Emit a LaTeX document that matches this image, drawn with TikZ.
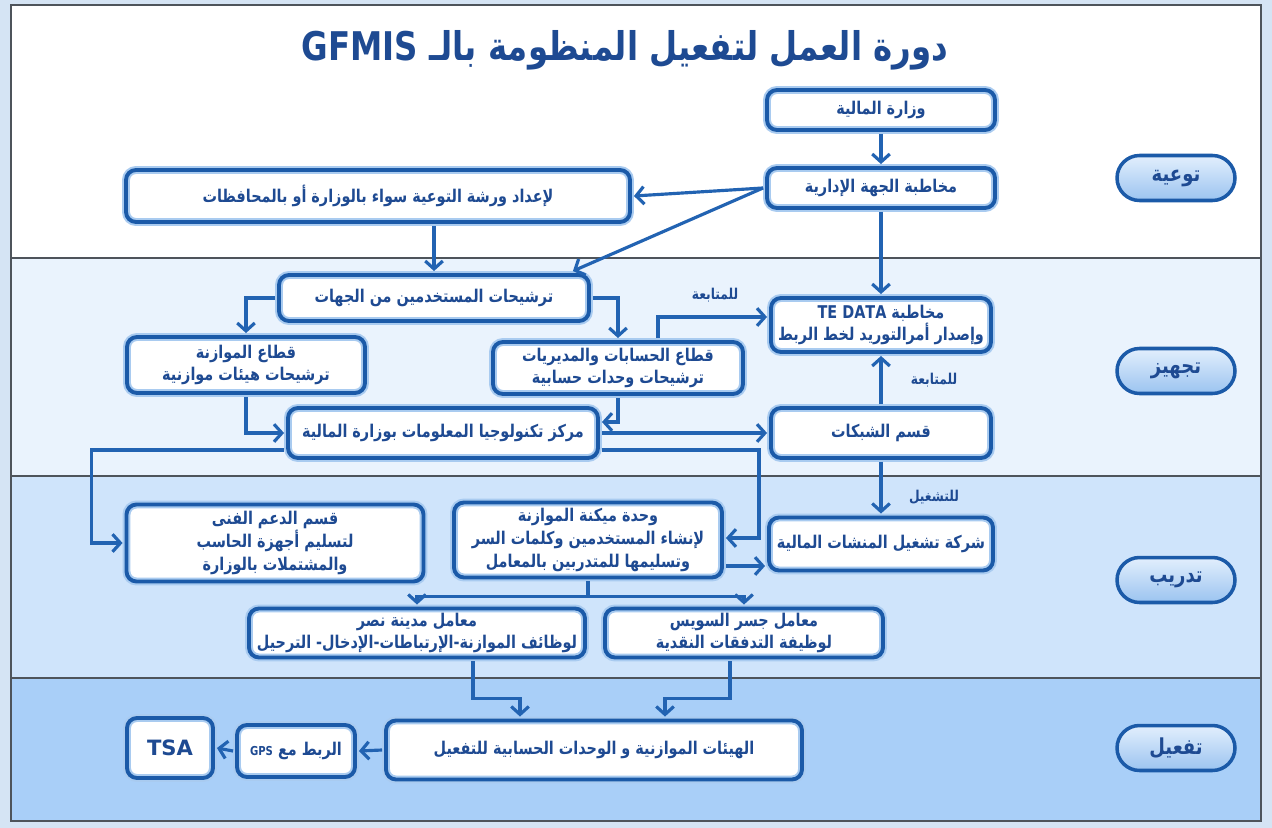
\documentclass[tikz,border=0pt]{standalone}
\usepackage{fontspec}
\setmainfont{DejaVu Sans}
\newfontfamily\arabicfont[Script=Arabic, FakeStretch=0.82]{DejaVu Sans}
\TeXXeTstate=1
\usetikzlibrary{arrows.meta,calc}
\definecolor{boxblue}{HTML}{1B5AA8}
\definecolor{glow}{HTML}{A9CBF0}
\definecolor{txtblue}{HTML}{1E4A92}
\definecolor{lineblue}{HTML}{2263B2}
\definecolor{bandA}{HTML}{FFFFFF}
\definecolor{bandB}{HTML}{EAF3FD}
\definecolor{bandC}{HTML}{CFE4FB}
\definecolor{bandD}{HTML}{A9CFF8}
\definecolor{outer}{HTML}{D5E4F4}
\definecolor{frame}{HTML}{4E545B}
\newcommand\ar[1]{{\arabicfont\bfseries\beginR #1\endR}}
\tikzset{
  sz/.style 2 args={minimum width=#1*0.02cm, minimum height=#2*0.02cm},
  box/.style={rectangle, rounded corners=0.2cm, fill=white, draw=glow, line width=4.5pt,
    postaction={draw=boxblue, line width=2.2pt}, align=center, text=txtblue,
    font=\fontsize{10}{13}\selectfont, inner sep=1pt},
  pill/.style={rectangle, rounded corners=0.45cm, top color=bandC!60!white, bottom color=bandD!90!boxblue,
    draw=boxblue, line width=2pt, minimum width=2.36cm, minimum height=0.9cm, text=txtblue,
    font=\fontsize{12.5}{14}\selectfont},
  arr/.style={draw=lineblue, line width=1.8pt, -{Straight Barb[length=4.5pt,width=10pt]}},
  ln/.style={draw=lineblue, line width=1.8pt},
  lbl/.style={text=txtblue, font=\fontsize{8.5}{10}\selectfont, inner sep=0pt},
  sep/.style={draw=frame, line width=0.9pt}
}
\begin{document}
\begin{tikzpicture}[x=0.02cm, y=-0.02cm]
\useasboundingbox (0,0) rectangle (1272,828);
\fill[outer] (0,0) rectangle (1272,828);
% bands
\fill[bandA] (11,5) rectangle (1261,258);
\fill[bandB] (11,258) rectangle (1261,476);
\fill[bandC] (11,476) rectangle (1261,678);
\fill[bandD] (11,678) rectangle (1261,821);
\draw[sep] (11,258) -- (1261,258);
\draw[sep] (11,476) -- (1261,476);
\draw[sep] (11,678) -- (1261,678);
\draw[draw=frame, line width=1.6pt] (11,5) rectangle (1261,821);

% title
\node[text=txtblue, font=\fontsize{22.5}{26}\selectfont] (title) at (625,50)
  {\ar{دورة العمل لتفعيل المنظومة بالـ  \beginL GFMIS\endL}};

% phase pills
\node[pill] (p1) at (1176,178) {\ar{توعية}};
\node[pill] (p2) at (1176,371) {\ar{تجهيز}};
\node[pill] (p3) at (1176,580) {\ar{تدريب}};
\node[pill] (p4) at (1176,748) {\ar{تفعيل}};

% boxes
\node[box, sz={228}{40}] (b1) at (881,110) {\ar{وزارة المالية}};
\node[box, sz={228}{40}] (b2) at (881,188) {\ar{مخاطبة الجهة الإدارية}};
\node[box, sz={504}{52}] (b3) at (378,196) {\ar{لإعداد ورشة التوعية سواء بالوزارة أو بالمحافظات}};
\node[box, sz={310}{46}] (b4) at (434,298) {\ar{ترشيحات المستخدمين من الجهات}};
\node[box, sz={238}{56}] (b5) at (246,365) {\ar{قطاع الموازنة}\\\ar{ترشيحات هيئات موازنية}};
\node[box, sz={250}{52}] (b6) at (618,368) {\ar{قطاع الحسابات والمديريات}\\\ar{ترشيحات وحدات حسابية}};
\node[box, sz={220}{54}] (b7) at (881,325) {\ar{مخاطبة  \beginL TE DATA\endL}\\\ar{وإصدار أمرالتوريد لخط الربط}};
\node[box, sz={310}{50}] (b8) at (443,433) {\ar{مركز تكنولوجيا المعلومات بوزارة المالية}};
\node[box, sz={220}{50}] (b9) at (881,433) {\ar{قسم الشبكات}};
\node[box, sz={297}{77}] (b10) at (275,543) {\ar{قسم الدعم الفنى}\\\ar{لتسليم أجهزة الحاسب}\\\ar{والمشتملات بالوزارة}};
\node[box, sz={268}{75}] (b11) at (588,540) {\ar{وحدة ميكنة الموازنة}\\\ar{لإنشاء المستخدمين وكلمات السر}\\\ar{وتسليمها للمتدربين بالمعامل}};
\node[box, sz={224}{53}] (b12) at (881,544) {\ar{شركة تشغيل المنشات المالية}};
\node[box, sz={336}{49}] (b13) at (417,633) {\ar{معامل مدينة نصر}\\\ar{لوظائف الموازنة-الإرتباطات-الإدخال- الترحيل}};
\node[box, sz={278}{49}] (b14) at (744,633) {\ar{معامل جسر السويس}\\\ar{لوظيفة التدفقات النقدية}};
\node[box, sz={416}{59}] (b15) at (594,750) {\ar{الهيئات الموازنية و الوحدات الحسابية للتفعيل}};
\node[box, sz={118}{52}] (b16) at (296,751) {\ar{الربط مع \beginL{\fontsize{7}{9}\selectfont GPS}\endL}};
\node[box, sz={86}{60}, font=\fontsize{12}{14}\selectfont\bfseries] (b17) at (170,748) {TSA};

% connectors
\draw[arr] (b1.south) -- (b2.north);
\draw[arr] (b2.west) -- (b3.east);
\draw[arr] (b2.west) -- ($(b4.north east)+(-20,0)$);
\draw[arr] (b4.north |- b3.south) -- (b4.north);
\draw[arr] (b2.south) -- (b7.north);
\draw[arr] (b4.west) -| (b5.north);
\draw[arr] (b4.east) -| (b6.north);
\draw[arr] ($(b6.north)+(40,0)$) |- ($(b7.west)+(0,-8)$);
\node[lbl] (l1) at (715,295) {\ar{للمتابعة}};
\draw[arr] (b5.south) |- (b8.west);
\draw[arr] (b6.south) |- ($(b8.east)+(0,-11)$);
\draw[arr] (b8.east) -- (b9.west);
\draw[arr] (b9.north) -- (b7.south);
\node[lbl] (l2) at (934,380) {\ar{للمتابعة}};
\draw[arr] (b9.south) -- (b12.north);
\node[lbl] (l3) at (934,497) {\ar{للتشغيل}};
\draw[arr] ($(b8.west)+(0,17)$) -| ($(b10.west)+(-31,0)$) -- (b10.west);
\draw[arr] ($(b8.east)+(0,17)$) -| ($(b11.east)+(33,-2)$) -- ($(b11.east)+(0,-2)$);
\draw[arr] ($(b11.east)+(0,26)$) coordinate (t1) -- (t1 -| b12.west);
\draw[ln] (b11.south) -- ++(0,15) coordinate (br);
\draw[arr] (br) -| (b13.north);
\draw[arr] (br) -| (b14.north);
\draw[arr] ($(b13.south)+(56,0)$) -- ++(0,37) -| ($(b15.north)+(-74,0)$);
\draw[arr] ($(b14.south)+(-14,0)$) -- ++(0,37) -| ($(b15.north)+(71,0)$);
\draw[arr] (b15.west) -- (b16.east);
\draw[arr] (b16.west) -- (b17.east);
\end{tikzpicture}
\end{document}
